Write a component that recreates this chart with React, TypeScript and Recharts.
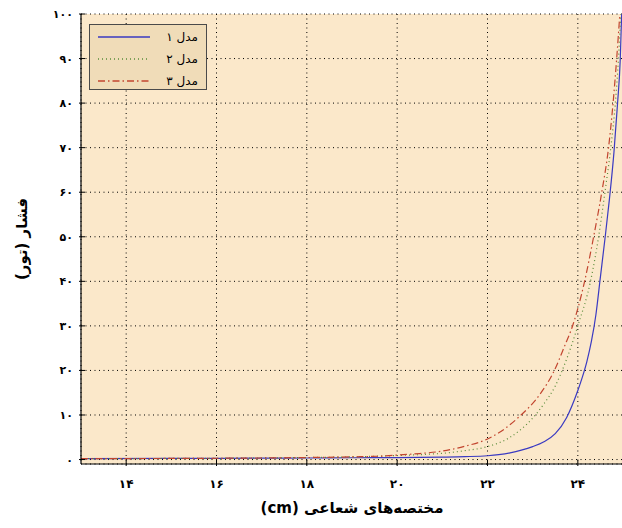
import React from "react";
import { LineChart, Line, XAxis, YAxis, CartesianGrid, Legend, Label } from "recharts";

// radial coordinate (cm) and pressure (torr) for the three models
const xTicks = [14, 16, 18, 20, 22, 24];
const yTicks = [0, 10, 20, 30, 40, 50, 60, 70, 80, 90, 100];

const model1X = [13, 15, 17, 18, 19, 20, 21, 21.5, 22, 22.25, 22.5, 22.75, 23, 23.25, 23.5, 23.75, 24, 24.1, 24.2, 24.3, 24.4, 24.5, 24.6, 24.7, 24.8, 24.88, 24.94, 24.97];
const model1Y = [0.2, 0.25, 0.3, 0.35, 0.4, 0.45, 0.55, 0.65, 0.85, 1.1, 1.5, 2.1, 2.9, 4.0, 5.8, 9.4, 15.5, 18.5, 22, 26.5, 32.5, 41, 49.5, 58.5, 69, 80, 90, 100];

const model2X = [13, 17, 18, 19, 20, 20.5, 21, 21.5, 22, 22.5, 23, 23.25, 23.5, 23.75, 24, 24.28, 24.46, 24.6, 24.73, 24.83, 24.9, 24.95];
const model2Y = [0.2, 0.35, 0.45, 0.6, 0.9, 1.1, 1.4, 2.0, 2.9, 5.0, 9.3, 12.5, 16.5, 22.5, 30, 40, 50, 60, 70, 80, 90, 100];

const model3X = [13, 17, 18, 19, 19.7, 20, 20.5, 21, 21.5, 22, 22.25, 22.7, 23.15, 23.48, 23.7, 23.89, 24.15, 24.34, 24.53, 24.68, 24.78, 24.86, 24.93];
const model3Y = [0.2, 0.35, 0.45, 0.6, 0.8, 1.0, 1.35, 1.9, 3.0, 4.6, 6.0, 9.6, 14.5, 20, 25.3, 30.2, 40, 49.5, 60, 70, 80, 90, 100];

const seriesNames = ["مدل ۱", "مدل ۲", "مدل ۳"];

const FONT = '"DejaVu Sans", sans-serif';
const seriesStyle = [
  { color: "#3a3ac2", dash: undefined as string | undefined },
  { color: "#5a8c3a", dash: "1 3" },
  { color: "#c2452f", dash: "7 3 1.5 3" },
];

const toFa = (v: number | string) =>
  String(v).replace(/\d/g, (d) => "۰۱۲۳۴۵۶۷۸۹"[Number(d)]);

const zip = (xs: number[], ys: number[]) => xs.map((x, i) => ({ x, p: ys[i] }));

const series = [zip(model1X, model1Y), zip(model2X, model2Y), zip(model3X, model3Y)];

const TICK = 6;

const BottomTick = ({ x, y, payload }: any) => (
  <g>
    <line x1={x} y1={y} x2={x} y2={y - TICK} stroke="#000" />
    <text x={x} y={y + 22} textAnchor="middle" fontSize={12} fontWeight="bold" fontFamily={FONT} fill="#000">
      {toFa(payload.value)}
    </text>
  </g>
);

const TopTick = ({ x, y }: any) => <line x1={x} y1={y} x2={x} y2={y + TICK} stroke="#000" />;

const LeftTick = ({ x, y, payload }: any) => (
  <g>
    <line x1={x} y1={y} x2={x + TICK} y2={y} stroke="#000" />
    <text x={x - 6} y={y + 4} textAnchor="end" fontSize={11} fontWeight="bold" fontFamily={FONT} fill="#000">
      {toFa(payload.value)}
    </text>
  </g>
);

const RightTick = ({ x, y }: any) => <line x1={x} y1={y} x2={x - TICK} y2={y} stroke="#000" />;

const XTitle = ({ viewBox }: any) => (
  <text
    x={viewBox.x + viewBox.width / 2}
    y={viewBox.y + 49}
    textAnchor="middle"
    direction="rtl"
    style={{ direction: "rtl", unicodeBidi: "embed" }}
    fontSize={15}
    fontWeight="bold"
    fontFamily={FONT}
    fill="#000"
  >
    مختصه‌های شعاعی (cm)
  </text>
);

const YTitle = ({ viewBox }: any) => {
  const cx = 22;
  const cy = viewBox.y + viewBox.height / 2;
  return (
    <text
      x={cx}
      y={cy}
      transform={`rotate(-90 ${cx} ${cy})`}
      textAnchor="middle"
      dominantBaseline="central"
      direction="rtl"
      style={{ direction: "rtl", unicodeBidi: "embed" }}
      fontSize={15}
      fontWeight="bold"
      fontFamily={FONT}
      fill="#000"
    >
      فشار (تور)
    </text>
  );
};

const LegendBox = () => (
  <div
    style={{
      width: 118,
      height: 66,
      boxSizing: "border-box",
      background: "#F0DCB8",
      border: "1px solid #4a4a4a",
      paddingTop: 1,
    }}
  >
    {seriesNames.map((name, i) => (
      <div key={name} style={{ height: 22, display: "flex", alignItems: "center" }}>
        <svg width={62} height={22} style={{ display: "block" }}>
          <line
            x1={8}
            y1={11}
            x2={60}
            y2={11}
            stroke={seriesStyle[i].color}
            strokeWidth={1.5}
            strokeDasharray={seriesStyle[i].dash}
          />
        </svg>
        <span
          style={{
            flex: 1,
            textAlign: "right",
            paddingRight: 8,
            fontFamily: FONT,
            fontSize: 12,
            direction: "rtl",
            color: "#000",
          }}
        >
          {name}
        </span>
      </div>
    ))}
  </div>
);

export default function App() {
  return (
    <div
      style={{
        position: "absolute",
        left: 0,
        top: 0,
        width: 622,
        height: 528,
        overflow: "hidden",
        background: "#fff",
      }}
    >
      <LineChart width={640} height={528} margin={{ top: 14, right: 17, bottom: 0, left: 0 }}>
        <CartesianGrid stroke="#000" strokeDasharray="1 3.5" fill="#FBE8CA" fillOpacity={1} />
        <XAxis
          dataKey="x"
          type="number"
          domain={[13, 25]}
          ticks={xTicks}
          interval={0}
          allowDataOverflow
          height={64}
          tickSize={0}
          tickLine={false}
          tick={<BottomTick />}
          axisLine={{ stroke: "#000", strokeWidth: 1.2 }}
        >
          <Label content={<XTitle />} />
        </XAxis>
        <XAxis
          xAxisId="top"
          orientation="top"
          dataKey="x"
          type="number"
          domain={[13, 25]}
          ticks={xTicks}
          interval={0}
          allowDataOverflow
          height={0}
          tickSize={0}
          tickLine={false}
          tick={<TopTick />}
          axisLine={{ stroke: "#000", strokeWidth: 1.2 }}
        />
        <YAxis
          type="number"
          domain={[-1, 100]}
          ticks={yTicks}
          interval={0}
          allowDataOverflow
          width={81}
          tickSize={0}
          tickLine={false}
          tick={<LeftTick />}
          axisLine={{ stroke: "#000", strokeWidth: 1.2 }}
        >
          <Label content={<YTitle />} />
        </YAxis>
        <YAxis
          yAxisId="right"
          orientation="right"
          type="number"
          domain={[-1, 100]}
          ticks={yTicks}
          interval={0}
          allowDataOverflow
          width={0}
          tickSize={0}
          tickLine={false}
          tick={<RightTick />}
          axisLine={{ stroke: "#000", strokeWidth: 1.2 }}
        />
        {series.map((data, i) => (
          <Line
            key={seriesNames[i]}
            data={data}
            dataKey="p"
            name={seriesNames[i]}
            type="monotone"
            stroke={seriesStyle[i].color}
            strokeWidth={1.2}
            strokeDasharray={seriesStyle[i].dash}
            dot={false}
            activeDot={false}
            isAnimationActive={false}
          />
        ))}
        <Legend
          layout="vertical"
          align="center"
          verticalAlign="middle"
          content={<LegendBox />}
          wrapperStyle={{ left: 89, top: 24, width: 118, height: 66 }}
        />
      </LineChart>
    </div>
  );
}
